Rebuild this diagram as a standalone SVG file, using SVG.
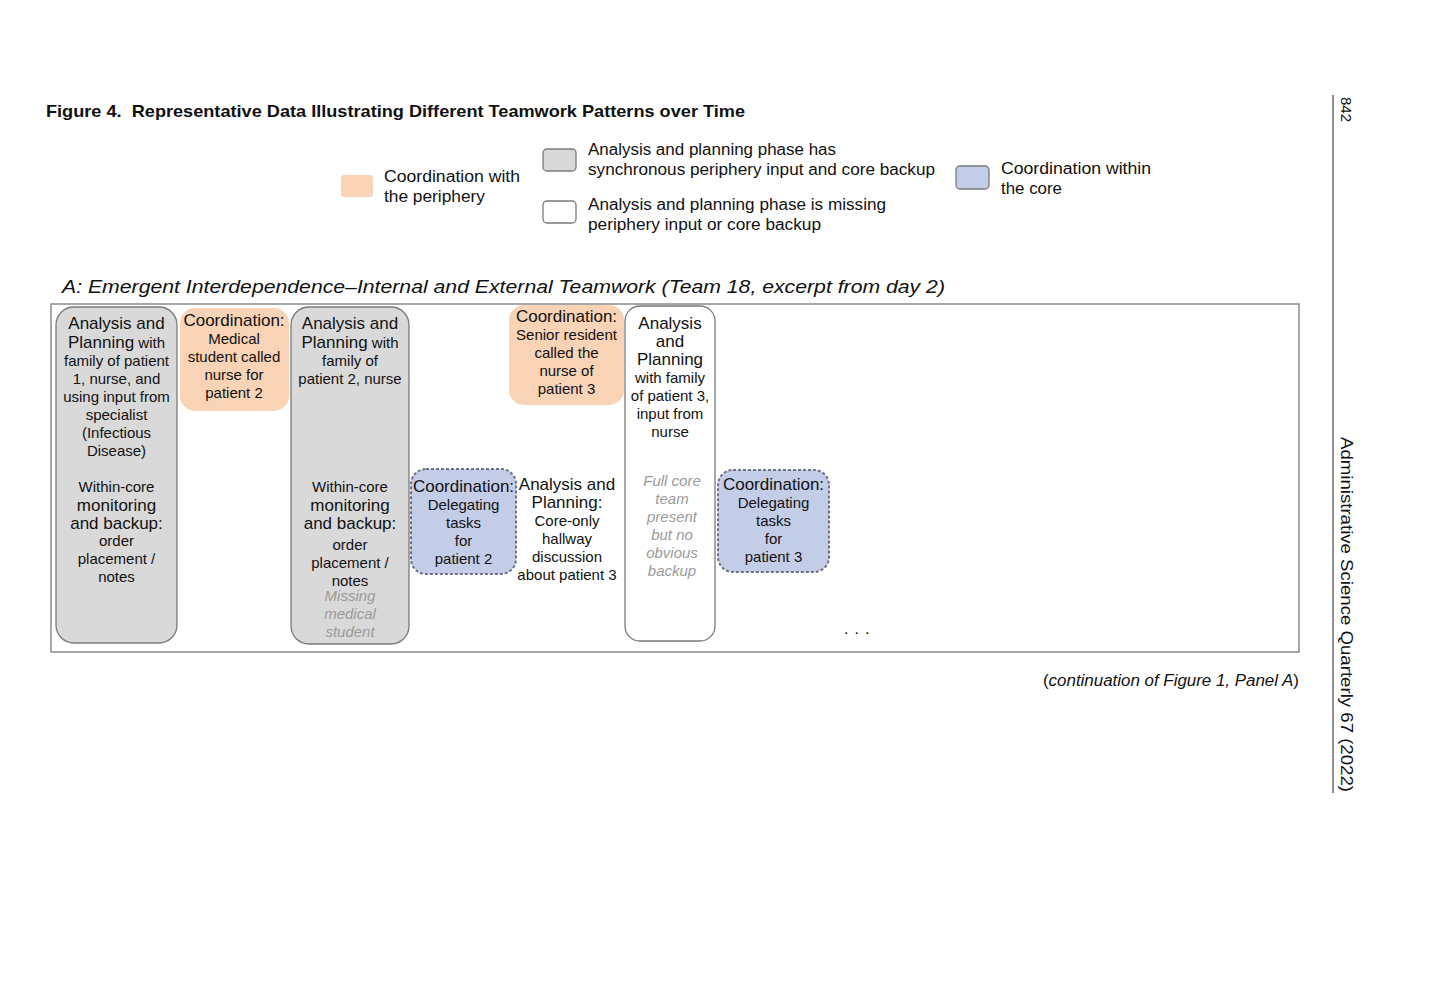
<svg xmlns="http://www.w3.org/2000/svg" width="1440" height="1008" viewBox="0 0 1440 1008">
<style>
text{font-family:"Liberation Sans",Arial,sans-serif;fill:#111}
.t{font-size:15px;text-anchor:middle}
.L{font-size:17px}
.c{text-anchor:middle}
.g{font-size:15px;font-style:italic;fill:#9a9a9a;text-anchor:middle}
.leg{font-size:16px}
.gray{fill:#d9d9d9;stroke:#7a7a7a;stroke-width:1.3}
.peach{fill:#f9d3b5;stroke:none}
.blue{fill:#c4cde8;stroke:#707080;stroke-width:2;stroke-dasharray:3 2}
.white{fill:#fff;stroke:#7a7a7a;stroke-width:1.3}
</style>
<rect width="1440" height="1008" fill="#fff"/>
<text x="46" y="117" font-size="17" font-weight="bold" textLength="699" lengthAdjust="spacingAndGlyphs">Figure 4.&#160; Representative Data Illustrating Different Teamwork Patterns over Time</text>

<g id="legend">
<rect x="341" y="175" width="32" height="22" rx="3" class="peach"/>
<text class="leg" x="384" y="182" textLength="136" lengthAdjust="spacingAndGlyphs">Coordination with</text>
<text class="leg" x="384" y="202" textLength="101" lengthAdjust="spacingAndGlyphs">the periphery</text>
<rect x="543" y="149" width="33" height="22" rx="4" class="gray"/>
<text class="leg" x="588" y="155" textLength="248" lengthAdjust="spacingAndGlyphs">Analysis and planning phase has</text>
<text class="leg" x="588" y="175" textLength="347" lengthAdjust="spacingAndGlyphs">synchronous periphery input and core backup</text>
<rect x="543" y="201" width="33" height="22" rx="4" class="white"/>
<text class="leg" x="588" y="210" textLength="298" lengthAdjust="spacingAndGlyphs">Analysis and planning phase is missing</text>
<text class="leg" x="588" y="230" textLength="233" lengthAdjust="spacingAndGlyphs">periphery input or core backup</text>
<rect x="956" y="166" width="33" height="23" rx="4" fill="#c4cde8" stroke="#7a7a7a" stroke-width="1.3"/>
<text class="leg" x="1001" y="174" textLength="150" lengthAdjust="spacingAndGlyphs">Coordination within</text>
<text class="leg" x="1001" y="194" textLength="61" lengthAdjust="spacingAndGlyphs">the core</text>
</g>

<text x="62" y="293" font-size="19" font-style="italic" textLength="883" lengthAdjust="spacingAndGlyphs">A: Emergent Interdependence–Internal and External Teamwork (Team 18, excerpt from day 2)</text>
<rect id="frame" x="51" y="304" width="1248" height="348" fill="none" stroke="#8a8a8a" stroke-width="1.5"/>

<g id="connectors"></g>

<g id="n1">
<rect x="56" y="307" width="121" height="336" rx="18" class="gray"/>
<text class="t L" x="116.5" y="329">Analysis and</text>
<text class="t" x="116.5" y="348"><tspan class="L">Planning</tspan> with</text>
<text class="t" x="116.5" y="366">family of patient</text>
<text class="t" x="116.5" y="384">1, nurse, and</text>
<text class="t" x="116.5" y="402">using input from</text>
<text class="t" x="116.5" y="420">specialist</text>
<text class="t" x="116.5" y="438">(Infectious</text>
<text class="t" x="116.5" y="456">Disease)</text>
<text class="t" x="116.5" y="492">Within-core</text>
<text class="t L" x="116.5" y="511">monitoring</text>
<text class="t L" x="116.5" y="529">and backup:</text>
<text class="t" x="116.5" y="546">order</text>
<text class="t" x="116.5" y="564">placement /</text>
<text class="t" x="116.5" y="582">notes</text>
</g>

<g id="n2">
<rect x="180" y="308" width="109" height="103" rx="15" class="peach"/>
<text class="t L" x="234" y="326">Coordination:</text>
<text class="t" x="234" y="344">Medical</text>
<text class="t" x="234" y="362">student called</text>
<text class="t" x="234" y="380">nurse for</text>
<text class="t" x="234" y="398">patient 2</text>
</g>

<g id="n3">
<rect x="291" y="307" width="118" height="337" rx="18" class="gray"/>
<text class="t L" x="350" y="329">Analysis and</text>
<text class="t" x="350" y="348"><tspan class="L">Planning</tspan> with</text>
<text class="t" x="350" y="366">family of</text>
<text class="t" x="350" y="384">patient 2, nurse</text>
<text class="t" x="350" y="492">Within-core</text>
<text class="t L" x="350" y="511">monitoring</text>
<text class="t L" x="350" y="529">and backup:</text>
<text class="t" x="350" y="550">order</text>
<text class="t" x="350" y="568">placement /</text>
<text class="t" x="350" y="586">notes</text>
<text class="g" x="350" y="601">Missing</text>
<text class="g" x="350" y="619">medical</text>
<text class="g" x="350" y="637">student</text>
</g>

<g id="n4">
<rect x="411" y="469" width="105" height="105" rx="15" class="blue"/>
<text class="t L" x="463.5" y="492">Coordination:</text>
<text class="t" x="463.5" y="510">Delegating</text>
<text class="t" x="463.5" y="528">tasks</text>
<text class="t" x="463.5" y="546">for</text>
<text class="t" x="463.5" y="564">patient 2</text>
</g>

<g id="n5">
<text class="t L" x="567" y="490">Analysis and</text>
<text class="t L" x="567" y="508">Planning:</text>
<text class="t" x="567" y="526">Core-only</text>
<text class="t" x="567" y="544">hallway</text>
<text class="t" x="567" y="562">discussion</text>
<text class="t" x="567" y="580">about patient 3</text>
</g>

<g id="n6">
<rect x="509" y="305" width="115" height="100" rx="15" class="peach"/>
<text class="t L" x="566.5" y="322">Coordination:</text>
<text class="t" x="566.5" y="340">Senior resident</text>
<text class="t" x="566.5" y="358">called the</text>
<text class="t" x="566.5" y="376">nurse of</text>
<text class="t" x="566.5" y="394">patient 3</text>
</g>

<g id="n7">
<rect x="625" y="306" width="90" height="335" rx="15" class="white"/>
<text class="t L" x="670" y="329">Analysis</text>
<text class="t L" x="670" y="347">and</text>
<text class="t L" x="670" y="365">Planning</text>
<text class="t" x="670" y="383">with family</text>
<text class="t" x="670" y="401">of patient 3,</text>
<text class="t" x="670" y="419">input from</text>
<text class="t" x="670" y="437">nurse</text>
<text class="g" x="672" y="486">Full core</text>
<text class="g" x="672" y="504">team</text>
<text class="g" x="672" y="522">present</text>
<text class="g" x="672" y="540">but no</text>
<text class="g" x="672" y="558">obvious</text>
<text class="g" x="672" y="576">backup</text>
</g>

<g id="n8">
<rect x="718" y="470" width="111" height="102" rx="15" class="blue"/>
<text class="t L" x="773.5" y="490">Coordination:</text>
<text class="t" x="773.5" y="508">Delegating</text>
<text class="t" x="773.5" y="526">tasks</text>
<text class="t" x="773.5" y="544">for</text>
<text class="t" x="773.5" y="562">patient 3</text>
</g>

<text x="844" y="634" font-size="16" letter-spacing="6">...</text>

<text x="1299" y="686" font-size="16" text-anchor="end" textLength="256" lengthAdjust="spacingAndGlyphs">(<tspan font-style="italic">continuation of Figure 1, Panel A</tspan>)</text>

<line x1="1333" y1="95" x2="1333" y2="793" stroke="#222" stroke-width="1"/>
<text transform="translate(1341,97) rotate(90)" font-size="15">842</text>
<text transform="translate(1341,437) rotate(90)" font-size="17" textLength="355" lengthAdjust="spacingAndGlyphs">Administrative Science Quarterly 67 (2022)</text>
</svg>
